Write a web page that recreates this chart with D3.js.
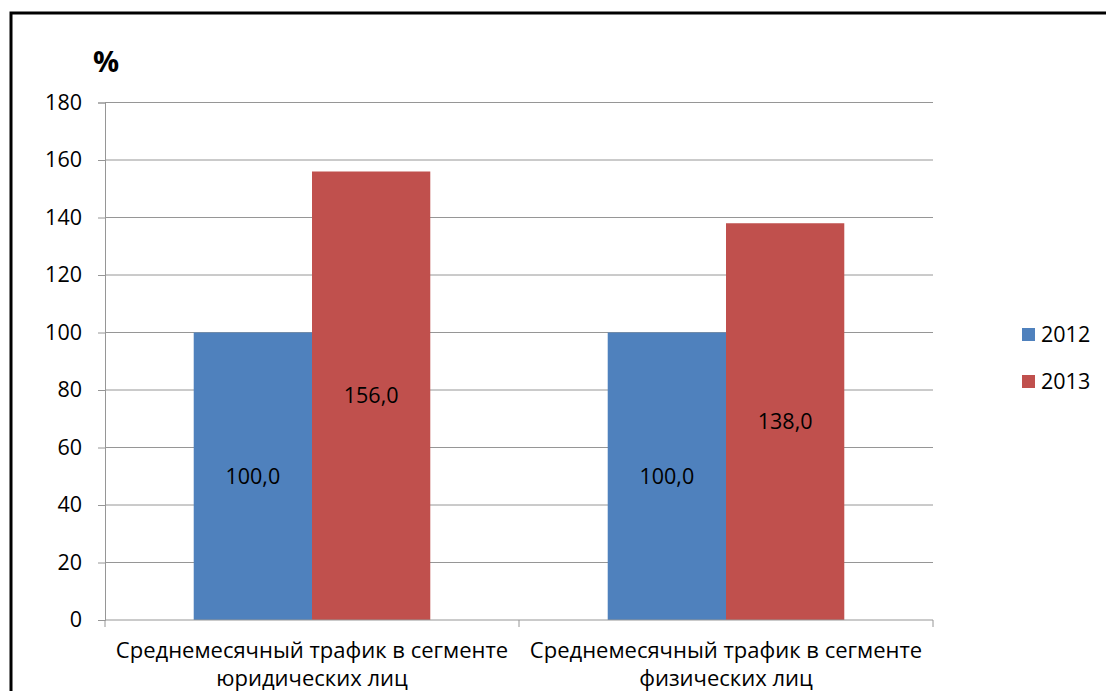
<!DOCTYPE html>
<html>
<head>
<meta charset="utf-8">
<script src="https://cdn.jsdelivr.net/npm/d3@7"></script>
<style>
body { margin: 0; background: #fff; }
text { font-family: "Open Sans", sans-serif; fill: #000; }
</style>
</head>
<body>
<div class="barchart"></div>
<script>
// data
const categories = ["Среднемесячный трафик в сегменте|юридических лиц", "Среднемесячный трафик в сегменте|физических лиц"];
const seriesNames = ["2012", "2013"];
const values2012 = [100, 100];
const values2013 = [156, 138];
const yTicks = [0, 20, 40, 60, 80, 100, 120, 140, 160, 180];
const colors = ["#4f81bd", "#c0504d"];

const W = 1106, H = 691;
const margin = ({top: 102.5, right: 173, bottom: 71, left: 105});
const width = W - margin.left - margin.right,
      height = H - margin.top - margin.bottom;
const fs = "21.5px";

const root = d3.select(".barchart").append("svg")
    .attr("width", W).attr("height", H);

// frame
root.append("rect")
    .attr("x", 11).attr("y", 13)
    .attr("width", W + 20).attr("height", H + 20)
    .attr("fill", "none").attr("stroke", "#000").attr("stroke-width", 3);

const svg = root.append("g")
    .attr("transform", "translate(" + margin.left + "," + margin.top + ")");

const xScale = d3.scaleBand().domain(categories).range([0, width]);
const xInner = d3.scaleBand().domain(seriesNames)
    .range([0, xScale.bandwidth()]).paddingInner(0).paddingOuter(0.75);
const yScale = d3.scaleLinear().domain([0, 180]).range([height, 0]);

// gridlines
svg.append("g").selectAll("line")
    .data(yTicks.filter(d => d > 0))
    .enter().append("line")
    .attr("x1", 0).attr("x2", width)
    .attr("y1", d => yScale(d)).attr("y2", d => yScale(d))
    .attr("stroke", "#969696").attr("stroke-width", 1);

// y axis
const yAxis = d3.axisLeft(yScale).tickValues(yTicks).tickSize(7).tickPadding(16);
const yg = svg.append("g").attr("class", "axis y-axis").call(yAxis);
yg.select(".domain").attr("stroke", "#969696");
yg.selectAll(".tick line").attr("stroke", "#969696");
yg.selectAll(".tick text").attr("font-size", fs).attr("font-family", "'Open Sans', sans-serif").attr("fill", "#000");

// bars
const data = [];
categories.forEach((c, i) => {
    data.push({cat: c, series: "2012", value: values2012[i]});
    data.push({cat: c, series: "2013", value: values2013[i]});
});

svg.selectAll(".bar")
    .data(data)
    .enter().append("rect")
    .attr("class", "bar")
    .attr("x", d => xScale(d.cat) + xInner(d.series))
    .attr("y", d => yScale(d.value))
    .attr("width", xInner.bandwidth())
    .attr("height", d => height - yScale(d.value))
    .attr("fill", d => colors[seriesNames.indexOf(d.series)]);

// value labels
svg.selectAll(".vlabel")
    .data(data)
    .enter().append("text")
    .attr("class", "vlabel")
    .attr("x", d => xScale(d.cat) + xInner(d.series) + xInner.bandwidth() / 2)
    .attr("y", d => (yScale(d.value) + height) / 2)
    .attr("dy", "0.35em")
    .attr("text-anchor", "middle")
    .attr("font-size", fs)
    .text(d => d.value.toFixed(1).replace(".", ","));

// x axis
const xg = svg.append("g").attr("class", "axis x-axis")
    .attr("transform", "translate(0," + height + ")");
xg.append("line").attr("x1", 0).attr("x2", width).attr("stroke", "#969696");
[0, xScale.bandwidth(), width].forEach(x => {
    xg.append("line").attr("x1", x).attr("x2", x).attr("y1", 0).attr("y2", 7).attr("stroke", "#969696");
});
categories.forEach(c => {
    const lines = c.split("|");
    const t = xg.append("text")
        .attr("text-anchor", "middle")
        .attr("font-size", "22px")
        .attr("x", xScale(c) + xScale.bandwidth() / 2);
    lines.forEach((l, i) => {
        t.append("tspan")
            .attr("x", xScale(c) + xScale.bandwidth() / 2)
            .attr("y", 38 + i * 28)
            .text(l);
    });
});

// y label
root.append("text")
    .attr("x", 93).attr("y", 72)
    .attr("font-size", "29px").attr("font-weight", "bold")
    .text("%");

// legend
const legend = root.append("g").attr("transform", "translate(1022,328)");
seriesNames.forEach((s, i) => {
    const g = legend.append("g").attr("transform", "translate(0," + i * 47 + ")");
    g.append("rect").attr("width", 13).attr("height", 13).attr("fill", colors[i]);
    g.append("text").attr("x", 19).attr("y", 6.5).attr("dy", "0.35em")
        .attr("font-size", fs).text(s);
});
</script>
</body>
</html>
